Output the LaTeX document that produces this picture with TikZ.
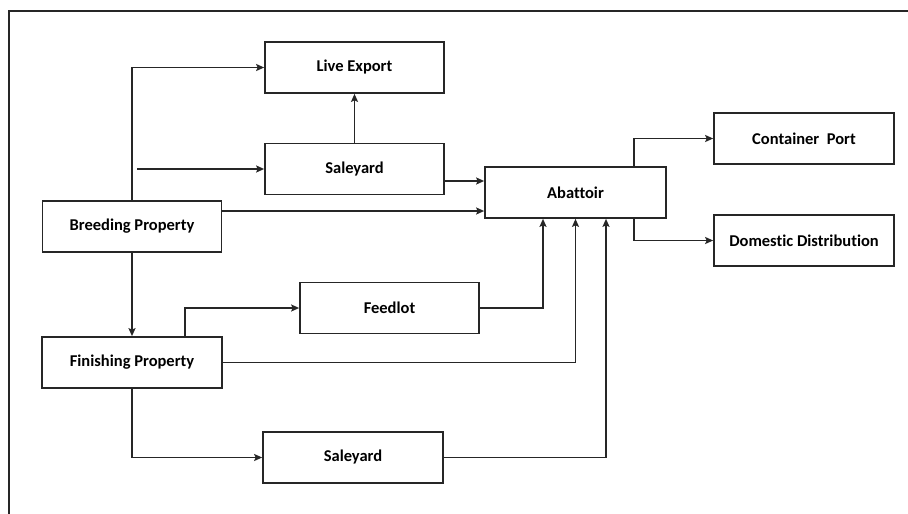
\documentclass[tikz,border=0pt]{standalone}
\usepackage{fontspec}
\setmainfont{Carlito}[Ligatures={NoCommon}]
\usepackage{tikz}
\usetikzlibrary{arrows.meta}

\begin{document}
\begin{tikzpicture}[x=1pt,y=-1pt,line width=1.7pt,draw=black!85,
	box/.style={draw,minimum width=179pt,minimum height=51pt,inner sep=0pt,font=\bfseries\fontsize{16.5}{19}\selectfont},
	flow/.style={-{Stealth[length=8pt,width=7pt,inset=1.5pt]}}]
    \useasboundingbox (0,0) rectangle (908,514);
    \draw (908,11) -- (9,11) -- (9,514);
    \node[box] (live) at (354.5,67.5) {Live Export};
    \node[box] (sale1) at (354.5,169) {Saleyard};
    \node[box] (breed) at (132,226.5) {Breeding Property};
    \node[box,minimum width=181pt] (abat) at (575.5,192.5) {Abattoir};
    \node[box,minimum width=180pt] (port) at (804,138.5) {Container\ \ Port};
    \node[box,minimum width=180pt] (dom) at (804,240.5) {Domestic Distribution};
    \node[box] (feed) at (389.5,308) {Feedlot};
    \node[box,minimum width=180pt] (finish) at (132,362.5) {Finishing Property};
    \node[box,minimum width=180pt] (sale2) at (353,457.5) {Saleyard};
    \coordinate (fork) at (137,169);
    % breeding property
    \draw[flow] (breed.north) |- (live.west);
    \draw[flow] (fork) -- (sale1.west);
    \draw[flow] ([yshift=15.5pt]breed.east) -- ([yshift=15.5pt]breed.east -| abat.west);
    \draw[flow] (breed.south) -- (finish.north);
    \draw[flow] (sale1.north) -- (live.south);
    \draw[flow] ([yshift=-12pt]sale1.east) -- ([yshift=-12pt]sale1.east -| abat.west);
    % finishing property
    \draw[flow] ([xshift=53pt]finish.north) |- (feed.west);
    \draw[flow] (finish.south) |- (sale2.west);
    \draw[flow] (feed.east) -| ([xshift=-32.5pt]abat.south);
    \draw[flow] (finish.east) -| (abat.south);
    \draw[flow] (sale2.east) -| ([xshift=30.5pt]abat.south);
    % abattoir
    \draw[flow] ([xshift=58.5pt]abat.north) |- (port.west);
    \draw[flow] ([xshift=58.5pt]abat.south) |- (dom.west);
\end{tikzpicture}
\end{document}
